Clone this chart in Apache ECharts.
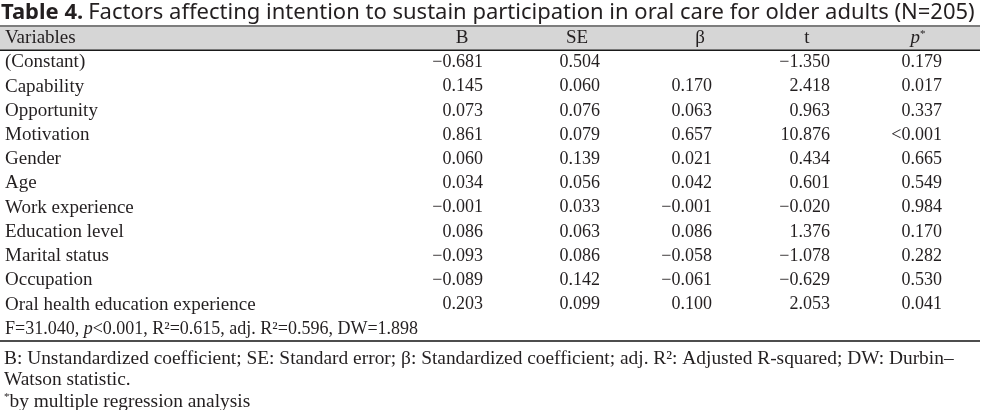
<!DOCTYPE html>
<html>
<head>
<meta charset="utf-8">
<script src="https://cdn.jsdelivr.net/npm/echarts@6/dist/echarts.min.js"></script>
<style>
  html, body { margin: 0; padding: 0; background: #fff; }
  #table_4 { width: 985px; height: 410px; }
</style>
</head>
<body>
<div id="table_4"></div>
<script>
// 表格数据
var headers = ['Variables', 'B', 'SE', 'β', 't', 'p'];
var variables = ['(Constant)', 'Capability', 'Opportunity', 'Motivation', 'Gender', 'Age',
    'Work experience', 'Education level', 'Marital status', 'Occupation',
    'Oral health education experience'];
var bVals = [-0.681, 0.145, 0.073, 0.861, 0.060, 0.034, -0.001, 0.086, -0.093, -0.089, 0.203];
var seVals = [0.504, 0.060, 0.076, 0.079, 0.139, 0.056, 0.033, 0.063, 0.086, 0.142, 0.099];
var betaVals = [null, 0.170, 0.063, 0.657, 0.021, 0.042, -0.001, 0.086, -0.058, -0.061, 0.100];
var tVals = [-1.350, 2.418, 0.963, 10.876, 0.434, 0.601, -0.020, 1.376, -1.078, -0.629, 2.053];
var pVals = [0.179, 0.017, 0.337, '<0.001', 0.665, 0.549, 0.984, 0.170, 0.282, 0.530, 0.041];
var modelFit = {F: 31.040, p: '<0.001', R2: 0.615, adjR2: 0.596, DW: 1.898};

var titleBold = 'Table 4.';
var titleText = 'Factors affecting intention to sustain participation in oral care for older adults (N=205)';
var footnotes = [
    'B: Unstandardized coefficient; SE: Standard error; β: Standardized coefficient; adj. R²: Adjusted R-squared; DW: Durbin–',
    'Watson statistic.',
    '{sup|*}by multiple regression analysis'
];

// 布局(像素坐标, 与x轴一致)
var colHeadX = [5, 462, 577, 700, 807, 918];
var colRightX = [5, 483, 600, 712, 830, 942];
var bandEnd = 980;
var serif = 'Liberation Serif';
var ink = '#231f20';

function fmt(v) {
    if (v === null || v === undefined) return '';
    if (typeof v === 'string') return v;
    var s = v.toFixed(3);
    return s.charAt(0) === '-' ? '\u2212' + s.slice(1) : s;
}

var rowKeys = ['header'].concat(variables).concat(['fit']);
var cols = [bVals, seVals, betaVals, tVals, pVals];

var fitLine = '{m|F=' + modelFit.F.toFixed(3) + ', }{mi|p}{m|' + modelFit.p + ', R²=' + modelFit.R2.toFixed(3) +
    ', adj. R²=' + modelFit.adjR2.toFixed(3) + ', DW=' + modelFit.DW.toFixed(3) + '}';

var richBody = {
    n: {fontFamily: serif, fontSize: 19, color: ink},
    i: {fontFamily: serif, fontSize: 19, color: ink, fontStyle: 'italic'},
    m: {fontFamily: serif, fontSize: 18, color: ink},
    mi: {fontFamily: serif, fontSize: 18, color: ink, fontStyle: 'italic'},
    sup: {fontFamily: serif, fontSize: 11, color: ink, verticalAlign: 'top', padding: [0, 0, 6, 0]}
};

function txt(x, y, text, align, size) {
    return {
        type: 'text',
        x: x, y: y,
        style: {
            text: text,
            fontFamily: serif,
            fontSize: size || 19,
            fill: ink,
            rich: richBody,
            align: align,
            verticalAlign: 'middle'
        }
    };
}

function renderItem(params, api) {
    var r = params.dataIndex;
    var y = api.coord([0, r])[1];
    var h = api.size([0, 1])[1];
    var x0 = api.coord([0, r])[0];
    var x1 = api.coord([bandEnd, r])[0];
    var children = [];
    if (r === 0) {
        children.push({
            type: 'rect',
            shape: {x: x0, y: y - h / 2, width: x1 - x0, height: h},
            style: {fill: '#d6d6d6'}
        });
        children.push({
            type: 'line',
            shape: {x1: x0, y1: y - h / 2, x2: x1, y2: y - h / 2},
            style: {stroke: '#7d7d7d', lineWidth: 2}
        });
        children.push({
            type: 'line',
            shape: {x1: x0, y1: y + h / 2, x2: x1, y2: y + h / 2},
            style: {stroke: '#1a1a1a', lineWidth: 1.5}
        });
        for (var j = 0; j < headers.length; j++) {
            var hx = api.coord([colHeadX[j], r])[0];
            if (j === 0) {
                children.push(txt(hx, y, headers[j], 'left'));
            } else if (headers[j] === 'p') {
                children.push(txt(hx, y, '{i|p}{sup|*}', 'center'));
            } else {
                children.push(txt(hx, y, headers[j], 'center'));
            }
        }
    } else if (r === rowKeys.length - 1) {
        children.push(txt(api.coord([colHeadX[0], r])[0], y, fitLine, 'left'));
        children.push({
            type: 'line',
            shape: {x1: x0, y1: y + h / 2, x2: x1, y2: y + h / 2},
            style: {stroke: '#4d4d4d', lineWidth: 2}
        });
    } else {
        var k = r - 1;
        children.push(txt(api.coord([colRightX[0], r])[0], y, variables[k], 'left'));
        for (var c = 0; c < cols.length; c++) {
            children.push(txt(api.coord([colRightX[c + 1], r])[0], y, fmt(cols[c][k]), 'right', 18));
        }
    }
    return {type: 'group', children: children};
}

var myChart = echarts.init(document.getElementById('table_4'));

var option = {
    backgroundColor: '#fff',
    animation: false,
    title: {
        text: '{b|' + titleBold + '} {r|' + titleText + '}',
        left: 1,
        top: 0,
        padding: [0, 0, 0, 0],
        textStyle: {
            fontWeight: 'normal',
            rich: {
                b: {fontFamily: 'Noto Sans', fontSize: 22, fontWeight: 'bold', color: ink, lineHeight: 25},
                r: {fontFamily: 'Noto Sans', fontSize: 22, fontWeight: 'normal', color: ink, lineHeight: 25}
            }
        }
    },
    grid: {left: 0, right: 0, top: 26, height: 315},
    xAxis: {type: 'value', min: 0, max: 985, show: false},
    yAxis: {type: 'category', data: rowKeys, inverse: true, show: false},
    series: [{
        type: 'custom',
        renderItem: renderItem,
        data: rowKeys.map(function (k, i) { return [0, i]; }),
        encode: {x: 0, y: 1},
        silent: true
    }],
    graphic: footnotes.map(function (line, i) {
        return {
            type: 'text',
            left: 4,
            top: 349 + i * 21.5,
            style: {
                text: line,
                fontFamily: serif,
                fontSize: 19.4,
                fill: ink,
                rich: {
                    sup: {fontFamily: serif, fontSize: 11, fill: ink, verticalAlign: 'top', padding: [0, 0, 6, 0]}
                }
            }
        };
    })
};

myChart.setOption(option);
window.addEventListener('resize', function () {
    myChart.resize();
});
</script>
</body>
</html>
